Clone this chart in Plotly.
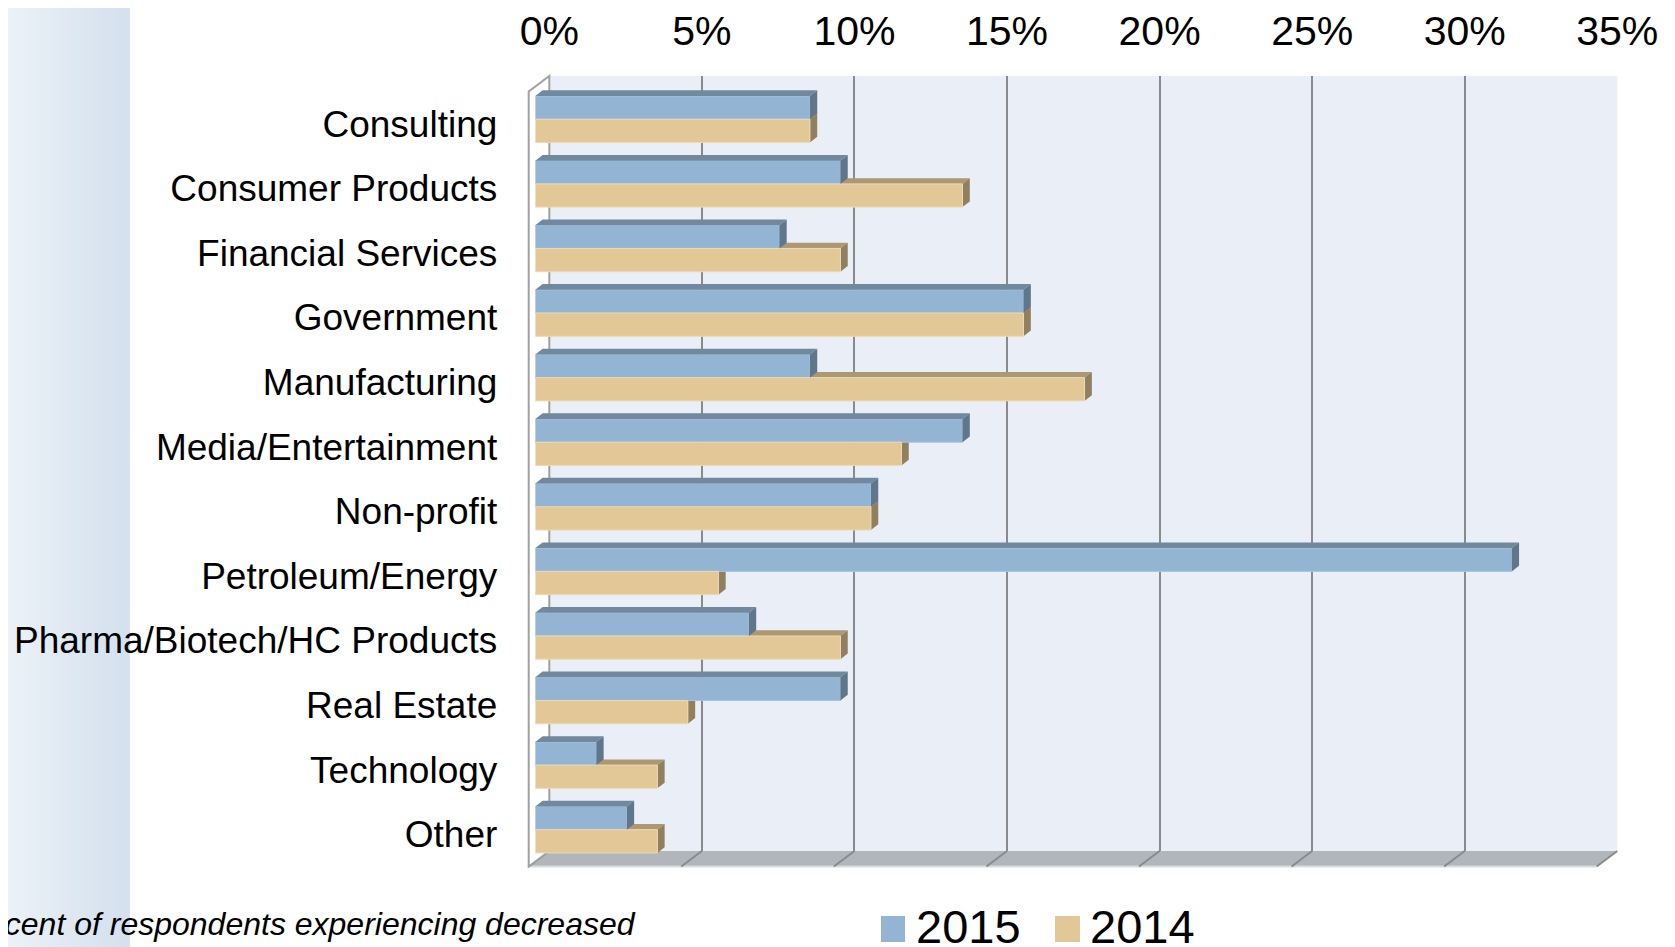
import plotly.graph_objects as go

# ---------------- data ----------------
categories = ["Consulting", "Consumer Products", "Financial Services", "Government",
              "Manufacturing", "Media/Entertainment", "Non-profit", "Petroleum/Energy",
              "Pharma/Biotech/HC Products", "Real Estate", "Technology", "Other"]
v2015 = [9, 10, 8, 16, 9, 14, 11, 32, 7, 10, 2, 3]
v2014 = [9, 14, 10, 16, 18, 12, 11, 6, 10, 5, 4, 4]
series_names = ["2015", "2014"]
tick_values = [0, 5, 10, 15, 20, 25, 30, 35]
tick_text = ["0%", "5%", "10%", "15%", "20%", "25%", "30%", "35%"]
footnote = "Percent of respondents experiencing decreased"

# ---------------- geometry / style (page pixels) ----------------
PAGE_MARGIN = 8              # default body margin of the html page
W, H = 1675 - PAGE_MARGIN, 947 - PAGE_MARGIN
BACK_X0, BACK_X1 = 549.3, 1617.3
BACK_Y0, BACK_Y1 = 76.0, 851.0
BAR_OFF = (-14.0, 11.0)
FRONT_OFF = (-20.6, 15.5)
DEPTH_PX = (7.3, 5.7)
XMAX = 35
N = len(categories)
BARGAP = 0.28

FONT = "Liberation Sans, Arial, sans-serif"
BLUE = dict(front="#93B5D3", top="#70899F", side="#5F768B", edge="#A9C4DC")
TAN = dict(front="#E3C897", top="#AE9773", side="#918060", edge="#EDD9B4")
colors = [BLUE, TAN]


def px(x):
    return (x - PAGE_MARGIN) / W


def py(y):
    return 1 - (y - PAGE_MARGIN) / H


def xdom(off):
    return [px(BACK_X0 + off), px(BACK_X1 + off)]


def ydom(off):
    return [py(BACK_Y1 + off), py(BACK_Y0 + off)]


px_per_x = (BACK_X1 - BACK_X0) / XMAX
px_per_cat = (BACK_Y1 - BACK_Y0) / N
DX = DEPTH_PX[0] / px_per_x
DY = DEPTH_PX[1] / px_per_cat
BW = (1 - BARGAP) / 2

fig = go.Figure()

# invisible carriers so that the back-wall axis and the front label axis are rendered
fig.add_trace(go.Bar(x=v2015, y=list(range(N)), orientation="h", opacity=0,
                     xaxis="x", yaxis="y", showlegend=False, hoverinfo="skip"))
fig.add_trace(go.Bar(x=v2014, y=list(range(N)), orientation="h", opacity=0,
                     xaxis="x4", yaxis="y4", showlegend=False, hoverinfo="skip"))


def faces(values, k):
    top_x, top_y, side_x, side_y = [], [], [], []
    for i, v in enumerate(values):
        yt = i - BW + k * BW
        yb = yt + BW
        top_x += [0, v, v + DX, DX, 0, None]
        top_y += [yt, yt, yt - DY, yt - DY, yt, None]
        side_x += [v, v + DX, v + DX, v, v, None]
        side_y += [yt, yt - DY, yb - DY, yb, yt, None]
    return top_x, top_y, side_x, side_y


series = [v2015, v2014]

# tan (2014) depth faces: drawn first, underneath the bar plane
tx, ty, sx, sy = faces(v2014, 1)
fig.add_trace(go.Scatter(x=tx, y=ty, fill="toself", fillcolor=TAN["top"], mode="lines",
                         line=dict(width=0), xaxis="x2", yaxis="y2", showlegend=False,
                         hoverinfo="skip"))
fig.add_trace(go.Scatter(x=sx, y=sy, fill="toself", fillcolor=TAN["side"], mode="lines",
                         line=dict(width=0), xaxis="x2", yaxis="y2", showlegend=False,
                         hoverinfo="skip"))

# front faces (bars)
for name, vals, c in zip(series_names, series, colors):
    fig.add_trace(go.Bar(x=vals, y=list(range(N)), orientation="h", name=name,
                         marker=dict(color=c["front"], line=dict(color=c["edge"], width=1)),
                         xaxis="x3", yaxis="y3", showlegend=False))

# blue (2015) depth faces
tx, ty, sx, sy = faces(v2015, 0)
fig.add_trace(go.Scatter(x=tx, y=ty, fill="toself", fillcolor=BLUE["top"], mode="lines",
                         line=dict(width=0), xaxis="x3", yaxis="y3", showlegend=False,
                         hoverinfo="skip"))
fig.add_trace(go.Scatter(x=sx, y=sy, fill="toself", fillcolor=BLUE["side"], mode="lines",
                         line=dict(width=0), xaxis="x3", yaxis="y3", showlegend=False,
                         hoverinfo="skip"))

hidden_x = dict(range=[0, XMAX], visible=False, fixedrange=True, automargin=False)
hidden_y = dict(range=[N - 0.5, -0.5], visible=False, fixedrange=True, automargin=False)

shapes = []
# left gradient panel
strips = 26
for s in range(strips):
    t = s / (strips - 1)
    r = int(238 + (212 - 238) * t)
    g = int(243 + (225 - 243) * t)
    b = int(248 + (238 - 248) * t)
    shapes.append(dict(type="rect", xref="paper", yref="paper", layer="below",
                       x0=px(129 * s / strips), x1=px(129 * (s + 1) / strips) + 0.0005,
                       y0=py(960), y1=py(0), fillcolor=f"rgb({r},{g},{b})", line=dict(width=0)))
# back wall
shapes.append(dict(type="rect", xref="paper", yref="paper", layer="below",
                   x0=px(BACK_X0), x1=px(BACK_X1), y0=py(BACK_Y1), y1=py(BACK_Y0),
                   fillcolor="#EAEFF7", line=dict(width=0)))


def path(points):
    return "M " + " L ".join(f"{px(a):.5f},{py(b):.5f}" for a, b in points) + " Z"


fx, fy = FRONT_OFF
# floor
shapes.append(dict(type="path", xref="paper", yref="paper", layer="below",
                   path=path([(BACK_X0, BACK_Y1), (BACK_X1, BACK_Y1),
                              (BACK_X1 + fx, BACK_Y1 + fy), (BACK_X0 + fx, BACK_Y1 + fy)]),
                   fillcolor="#B1B6BA", line=dict(width=0)))
shapes.append(dict(type="line", xref="paper", yref="paper", layer="below",
                   x0=px(BACK_X0 + fx), x1=px(BACK_X1 + fx), y0=py(BACK_Y1 + fy), y1=py(BACK_Y1 + fy),
                   line=dict(color="#D8DBDE", width=2)))
for tv in tick_values:
    xb = BACK_X0 + tv * px_per_x
    shapes.append(dict(type="line", xref="paper", yref="paper", layer="below",
                       x0=px(xb), y0=py(BACK_Y1), x1=px(xb + fx), y1=py(BACK_Y1 + fy),
                       line=dict(color="#8A8A8A", width=2)))
# left wall
shapes.append(dict(type="path", xref="paper", yref="paper", layer="below",
                   path=path([(BACK_X0, BACK_Y0), (BACK_X0, BACK_Y1),
                              (BACK_X0 + fx, BACK_Y1 + fy), (BACK_X0 + fx, BACK_Y0 + fy)]),
                   fillcolor="#FFFFFF", line=dict(color="#A0A0A0", width=2)))

# custom legend
leg_y0, leg_y1 = 916, 942
for (x0, x1), c in zip([(881, 905), (1055, 1080)], colors):
    shapes.append(dict(type="rect", xref="paper", yref="paper", x0=px(x0), x1=px(x1),
                       y0=py(leg_y1), y1=py(leg_y0), fillcolor=c["front"], line=dict(width=0)))

annotations = []
for xt, name in zip([914, 1088], series_names):
    annotations.append(dict(xref="paper", yref="paper", x=px(xt), y=py(926), xanchor="left",
                            yanchor="middle", text=name, showarrow=False,
                            font=dict(family=FONT, size=47, color="black")))
annotations.append(dict(xref="paper", yref="paper", x=px(-47), y=py(924), xanchor="left",
                        yanchor="middle", text=f"<i>{footnote}</i>", showarrow=False,
                        font=dict(family=FONT, size=32, color="black")))

fig.update_layout(
    width=W, height=H, autosize=False,
    margin=dict(l=0, r=0, t=0, b=0, autoexpand=False),
    paper_bgcolor="white", plot_bgcolor="rgba(0,0,0,0)",
    barmode="group", bargap=BARGAP, bargroupgap=0,
    font=dict(family=FONT, color="black"),
    xaxis=dict(domain=xdom(0), range=[0, XMAX], side="top", anchor="y",
               tickmode="array", tickvals=tick_values, ticktext=tick_text,
               tickfont=dict(size=41), automargin=False,
               showgrid=True, gridcolor="#8A8A8A", gridwidth=2, zeroline=False,
               showline=False, ticks="outside", ticklen=14, tickcolor="rgba(0,0,0,0)",
               fixedrange=True),
    yaxis=dict(domain=ydom(0), anchor="x", **hidden_y),
    xaxis2=dict(domain=xdom(BAR_OFF[0]), anchor="y2", **hidden_x),
    yaxis2=dict(domain=ydom(BAR_OFF[1]), anchor="x2", **hidden_y),
    xaxis3=dict(domain=xdom(BAR_OFF[0]), anchor="y3", **hidden_x),
    yaxis3=dict(domain=ydom(BAR_OFF[1]), anchor="x3", **hidden_y),
    xaxis4=dict(domain=xdom(FRONT_OFF[0]), anchor="y4", **hidden_x),
    yaxis4=dict(domain=ydom(FRONT_OFF[1]), anchor="x4", range=[N - 0.5, -0.5],
                tickmode="array", tickvals=list(range(N)), ticktext=categories,
                tickfont=dict(size=37), automargin=False,
                showgrid=False, zeroline=False, showline=False, ticks="outside",
                ticklen=23, tickcolor="rgba(0,0,0,0)", fixedrange=True),
    shapes=shapes, annotations=annotations,
)

fig.write_html("out.html")
